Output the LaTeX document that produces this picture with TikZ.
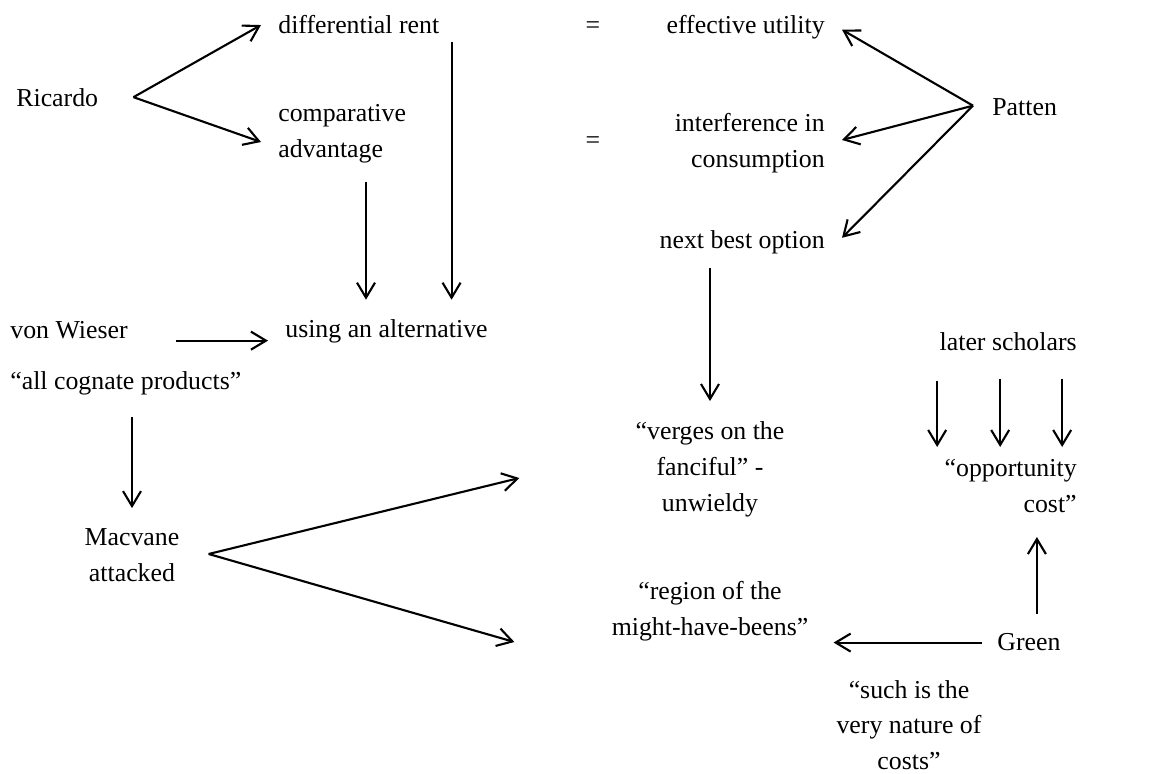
\documentclass[tikz,border=0pt]{standalone}
\usepackage{fontspec}
\setmainfont{Liberation Serif}
\usepackage{tikz}
\usetikzlibrary{arrows.meta}
\newcommand{\linkcolor}{black}
\newcommand{\linethick}{1.2pt}
\newcommand{\tiplength}{3mm}
\newcommand{\tipwidth}{3.6mm}

\begin{document}
\begin{tikzpicture}[x=0.02cm, y=-0.02cm,
  every node/.style={inner sep=0, font=\fontsize{14.7}{20.4}\selectfont},
  link/.style={\linkcolor, line width=\linethick, -{Straight Barb[length=\tiplength, width=\tipwidth]}}]
\useasboundingbox (0,0) rectangle (1153,774);
\node (1) at (16,106) [anchor=base west] {Ricardo};
\node (2) at (278,33) [anchor=base west] {differential rent};
\node (3) at (278,134) [anchor=west, align=left] {comparative\\advantage};
\node (4) at (593,33) [anchor=base] {=};
\node (5) at (593,148) [anchor=base] {=};
\node (6) at (825,33) [anchor=base east] {effective utility};
\node (7) at (825,143) [anchor=east, align=right] {interference in\\consumption};
\node (8) at (825,248) [anchor=base east] {next best option};
\node (9) at (992,115) [anchor=base west] {Patten};
\node (10) at (10,338) [anchor=base west] {von Wieser};
\node (11) at (10,389) [anchor=base west] {“all cognate products”};
\node (12) at (285,337) [anchor=base west] {using an alternative};
\node (13) at (132,555) [align=center] {Macvane\\attacked};
\node (14) at (710,469) [align=center] {“verges on the\\fanciful” -\\unwieldy};
\node (15) at (1077,350) [anchor=base east] {later scholars};
\node (16) at (1077,486) [anchor=east, align=right] {“opportunity\\cost”};
\node (17) at (710,611) [align=center] {“region of the\\might-have-beens”};
\node (18) at (997,650) [anchor=base west] {Green};
\node (19) at (909,725) [align=center] {“such is the\\very nature of\\costs”};
%Ricardo
\draw[link] ([shift={(35,0)}]1.east) -- ([shift={(-17,1)}]2.west);
\draw[link] ([shift={(35,0)}]1.east) -- ([shift={(-17,8)}]3.west);
\draw[link] ([shift={(88,18)}]3.south west) -- ([shift={(88,-19)}]3.south west |- 12.north);
\draw[link] ([shift={(12,8)}]2.south east) -- ([shift={(12,-19)}]2.south east |- 12.north);
%Patten
\draw[link] ([shift={(-19,-1)}]9.west) -- ([shift={(17,3)}]6.east);
\draw[link] ([shift={(-19,-1)}]9.west) -- ([shift={(17,-3)}]7.east);
\draw[link] ([shift={(-19,-1)}]9.west) -- ([shift={(17,-4)}]8.east);
\draw[link] ([shift={(-115,14)}]8.south east) -- ([shift={(-115,-20)}]8.south east |- 14.north);
%von Wieser
\draw[link] ([shift={(48,11)}]10.east) -- ([shift={(-17,11)}]10.east -| 12.west);
\draw[link] ([shift={(0,22)}]13.north |- 11.south) -- ([shift={(0,-20)}]13.north);
%Macvane
\draw[link] ([shift={(29,-1)}]13.east) -- ([shift={(-116,9)}]14.west);
\draw[link] ([shift={(29,-1)}]13.east) -- ([shift={(-97,31)}]17.west);
%later scholars
\draw[link] ([shift={(-71,30)}]15.south) -- ([shift={(-71,-12)}]15.south |- 16.north);
\draw[link] ([shift={(-8,28)}]15.south) -- ([shift={(-8,-12)}]15.south |- 16.north);
\draw[link] ([shift={(54,28)}]15.south) -- ([shift={(54,-12)}]15.south |- 16.north);
%Green
\draw[link] ([shift={(8,-19)}]18.north) -- ([shift={(8,24)}]18.north |- 16.south);
\draw[link] ([shift={(-15,1)}]18.west) -- ([shift={(25,1)}]18.west -| 17.east);
\end{tikzpicture}
\end{document}
